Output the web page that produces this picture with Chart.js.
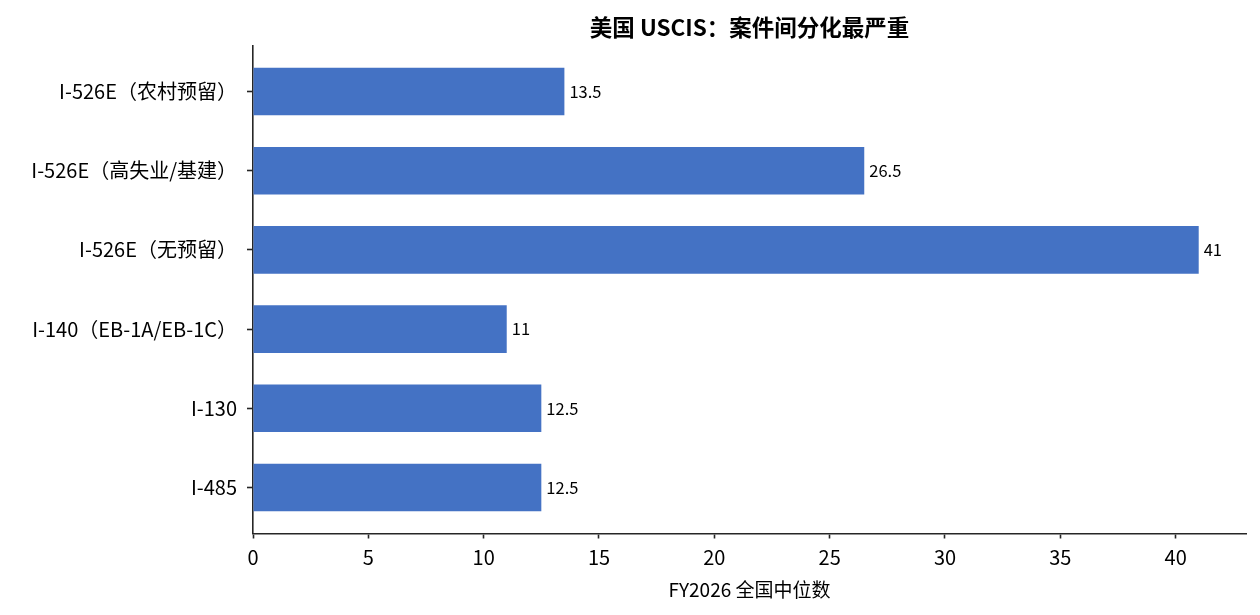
<!DOCTYPE html>
<html>
<head>
<meta charset="utf-8">
<script src="https://cdn.jsdelivr.net/npm/chart.js@4"></script>
<style>
  html, body { margin:0; padding:0; background:#fff; }
  #wrap { width:1260px; height:615px; }
</style>
</head>
<body>
<div id="wrap"><canvas id="chart"></canvas></div>
<script>
// categorias de arriba hacia abajo
const categories = ['I-526E（农村预留）', 'I-526E（高失业/基建）', 'I-526E（无预留）', 'I-140（EB-1A/EB-1C）', 'I-130', 'I-485'];
const medians = [13.5, 26.5, 41, 11, 12.5, 12.5];
const xTicks = [0, 5, 10, 15, 20, 25, 30, 35, 40];

const FONT = "'Noto Sans CJK SC', 'Noto Sans', sans-serif";
const AXIS = '#262626';

// etiquetas de valor al final de cada barra
const valueLabels = {
    id:'valueLabels',
    afterDatasetsDraw(chart){
        const ctx = chart.ctx;
        const meta = chart.getDatasetMeta(0);
        ctx.save();
        ctx.font = '16.5px ' + FONT;
        ctx.fillStyle = '#000';
        ctx.textAlign = 'left';
        ctx.textBaseline = 'middle';
        meta.data.forEach((bar,i)=>{
            ctx.fillText(String(medians[i]), bar.x + 5, bar.y);
        });
        ctx.restore();
    }
};

new Chart(document.getElementById('chart').getContext('2d'),{
    type:'bar',
    data:{
        datasets:[{
            data: medians.map((v,i)=>({x:v, y:i})),
            backgroundColor:'#4472C4',
            borderWidth:0,
            barPercentage:0.6,
            categoryPercentage:1
        }]
    },
    options:{
        indexAxis:'y',
        responsive:true,
        maintainAspectRatio:false,
        animation:false,
        layout:{ padding:{ left:0, right:14, top:0, bottom:0 } },
        plugins:{
            legend:{ display:false },
            tooltip:{ enabled:false },
            title:{
                display:true,
                text:'美国 USCIS：案件间分化最严重',
                fullSize:false,
                color:'#000',
                font:{ family:FONT, size:22.5, weight:'bold' },
                padding:{ top:14, bottom:4.5 }
            }
        },
        scales:{
            x:{
                type:'linear',
                min:0,
                max:43.05,
                afterBuildTicks: s => { s.ticks = xTicks.map(v=>({value:v})); },
                afterFit: s => { s.height = 81.5; },
                ticks:{ color:'#000', font:{ family:FONT, size:20 }, padding:7 },
                grid:{ drawOnChartArea:false, drawTicks:true, tickLength:5, tickColor:AXIS, tickWidth:1.6 },
                border:{ color:AXIS, width:1.6 },
                title:{
                    display:true,
                    text:'FY2026 全国中位数',
                    color:'#000',
                    font:{ family:FONT, size:19 },
                    padding:{ top:4, bottom:13.5 }
                }
            },
            y:{
                type:'linear',
                reverse:true,
                offset:false,
                min:-0.58,
                max:5.58,
                afterBuildTicks: s => { s.ticks = categories.map((c,i)=>({value:i})); },
                afterFit: s => { s.width = 253; },
                ticks:{ color:'#000', font:{ family:FONT, size:20 }, padding:10,
                        callback: v => categories[v] },
                grid:{ offset:false, drawOnChartArea:false, drawTicks:true, tickLength:6, tickColor:AXIS, tickWidth:1.6 },
                border:{ color:AXIS, width:1.6 }
            }
        }
    },
    plugins:[valueLabels]
});
</script>
</body>
</html>
